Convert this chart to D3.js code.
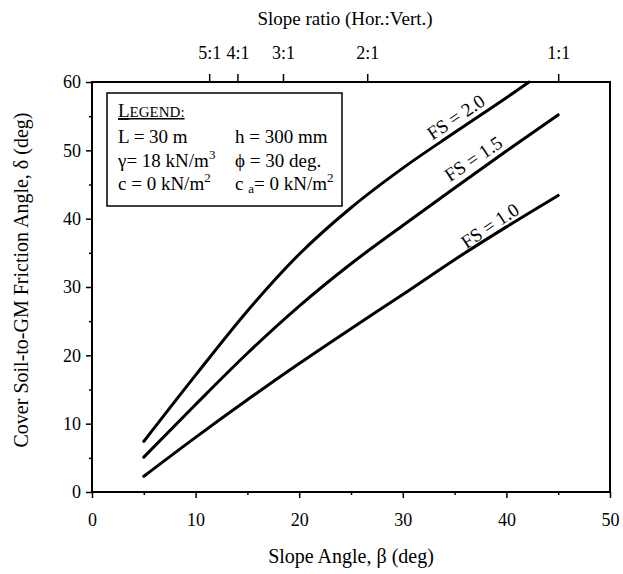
<!DOCTYPE html>
<html>
<head>
<meta charset="utf-8">
<script src="https://cdn.jsdelivr.net/npm/d3@7"></script>
<style>
  body { margin: 0; background: #fff; }
  svg { display: block; font-family: "Liberation Serif", "Times New Roman", serif; }
  .axis text { font-size: 18px; fill: #000; font-family: "Liberation Serif", "Times New Roman", serif; }
  .axis line { stroke: #000; stroke-width: 1.5; }
</style>
</head>
<body>
<svg id="chart" width="623" height="574"></svg>
<script>
// slope angle beta (deg)
const betaValues = [5, 10, 15, 20, 25, 30, 35, 40, 45];
const fs10 = [2.3, 8.0, 13.5, 18.8, 23.9, 28.9, 34.0, 38.8, 43.4];
const fs15 = [5.1, 12.8, 20.3, 27.2, 33.4, 39.0, 44.5, 49.9, 55.2];
// FS = 2.0 runs into the top of the plot near beta = 42
const betaFs20 = [5, 10, 15, 20, 25, 30, 35, 40, 42.2];
const fs20 = [7.4, 17.1, 26.5, 34.8, 41.6, 47.4, 52.6, 57.7, 60];

const curveLabels = ["FS = 1.0", "FS = 1.5", "FS = 2.0"];
const labelBeta = [38.4, 36.8, 35.1];
const labelDelta = [39.0, 48.8, 54.9];

const xTicks = [0, 10, 20, 30, 40, 50];
const yTicks = [0, 10, 20, 30, 40, 50, 60];
const slopeRatios = [5, 4, 3, 2, 1]; // horizontal : 1 vertical

const svg = d3.select("#chart");

const x = d3.scaleLinear().domain([0, 50]).range([92, 610]);
const y = d3.scaleLinear().domain([0, 60]).range([492, 82]);

function styleAxis(g) {
  g.attr("font-family", null).attr("font-size", null);
  g.select(".domain").remove();
}

const xAxis = svg.append("g")
  .attr("class", "axis")
  .attr("transform", `translate(0,${y(0)})`)
  .call(d3.axisBottom(x).tickValues(xTicks).tickSize(6).tickPadding(15).tickFormat(d3.format("d")))
  .call(styleAxis);

// minor ticks every 5
svg.append("g")
  .attr("class", "axis")
  .attr("transform", `translate(0,${y(0)})`)
  .call(d3.axisBottom(x).tickValues(d3.range(5, 50, 10)).tickSize(3).tickFormat(""))
  .call(styleAxis);

svg.append("g")
  .attr("class", "axis")
  .attr("transform", `translate(${x(0)},0)`)
  .call(d3.axisLeft(y).tickValues(yTicks).tickSize(6).tickPadding(5).tickFormat(d3.format("d")))
  .call(styleAxis);

svg.append("g")
  .attr("class", "axis")
  .attr("transform", `translate(${x(0)},0)`)
  .call(d3.axisLeft(y).tickValues(d3.range(5, 60, 10)).tickSize(3).tickFormat(""))
  .call(styleAxis);

// top axis: slope ratio H:V -> angle
svg.append("g")
  .attr("class", "axis")
  .attr("transform", `translate(0,${y(60)})`)
  .call(
    d3.axisTop(x)
      .tickValues(slopeRatios.map((r) => (Math.atan(1 / r) * 180) / Math.PI))
      .tickSize(8)
      .tickPadding(15)
      .tickFormat((d, i) => slopeRatios[i] + ":1")
  )
  .call(styleAxis);

// plot frame
svg.append("rect")
  .attr("x", x(0))
  .attr("y", y(60))
  .attr("width", x(50) - x(0))
  .attr("height", y(0) - y(60))
  .attr("fill", "none")
  .attr("stroke", "#000")
  .attr("stroke-width", 2);

// curves
const line = d3.line()
  .x((d) => x(d[0]))
  .y((d) => y(d[1]))
  .curve(d3.curveMonotoneX);

const series = [
  d3.zip(betaValues, fs10),
  d3.zip(betaValues, fs15),
  d3.zip(betaFs20, fs20),
];

svg.append("g")
  .selectAll("path")
  .data(series)
  .join("path")
  .attr("d", line)
  .attr("fill", "none")
  .attr("stroke", "#000")
  .attr("stroke-width", 3)
  .attr("stroke-linecap", "round");

svg.append("g")
  .selectAll("text")
  .data(curveLabels)
  .join("text")
  .attr("transform", (d, i) => `translate(${x(labelBeta[i])},${y(labelDelta[i])}) rotate(-34)`)
  .attr("text-anchor", "middle")
  .attr("dy", "0.35em")
  .attr("font-size", 19)
  .text((d) => d);

// legend box
const legend = svg.append("g");
legend.append("rect")
  .attr("x", 107)
  .attr("y", 93)
  .attr("width", 235)
  .attr("height", 113)
  .attr("fill", "#fff")
  .attr("stroke", "#000")
  .attr("stroke-width", 1.5);

const lg = legend.append("text")
  .attr("x", 118)
  .attr("y", 117)
  .attr("font-size", 19)
  .attr("text-decoration", "underline");
lg.append("tspan").text("L");
lg.append("tspan").attr("font-size", 15).text("EGEND:");

const legendRows = [
  [["L = 30 m"], ["h = 300 mm"]],
  [["γ= 18 kN/m", "3"], ["ϕ = 30 deg."]],
  [["c = 0 kN/m", "2"], ["c ", "a", "= 0 kN/m", "2"]],
];
const rowBase = [143, 167, 190];
const colX = [118, 235];

legendRows.forEach((row, r) => {
  row.forEach((parts, c) => {
    const t = legend.append("text")
      .attr("x", colX[c])
      .attr("y", rowBase[r])
      .attr("font-size", 19);
    if (parts.length === 1) {
      t.text(parts[0]);
    } else if (parts.length === 2) {
      t.append("tspan").text(parts[0]);
      t.append("tspan").attr("font-size", 13).attr("dy", -8).text(parts[1]);
    } else {
      t.append("tspan").text(parts[0]);
      t.append("tspan").attr("font-size", 13).attr("dy", 3).text(parts[1]);
      t.append("tspan").attr("dy", -3).text(parts[2]);
      t.append("tspan").attr("font-size", 13).attr("dy", -8).text(parts[3]);
    }
  });
});

// axis titles
svg.append("text")
  .attr("x", 345)
  .attr("y", 25)
  .attr("text-anchor", "middle")
  .attr("font-size", 19)
  .text("Slope ratio (Hor.:Vert.)");

svg.append("text")
  .attr("x", 351)
  .attr("y", 563)
  .attr("text-anchor", "middle")
  .attr("font-size", 20)
  .text("Slope Angle, β (deg)");

svg.append("text")
  .attr("transform", "translate(28,280) rotate(-90)")
  .attr("text-anchor", "middle")
  .attr("font-size", 20)
  .text("Cover Soil-to-GM Friction Angle, δ (deg)");
</script>
</body>
</html>
